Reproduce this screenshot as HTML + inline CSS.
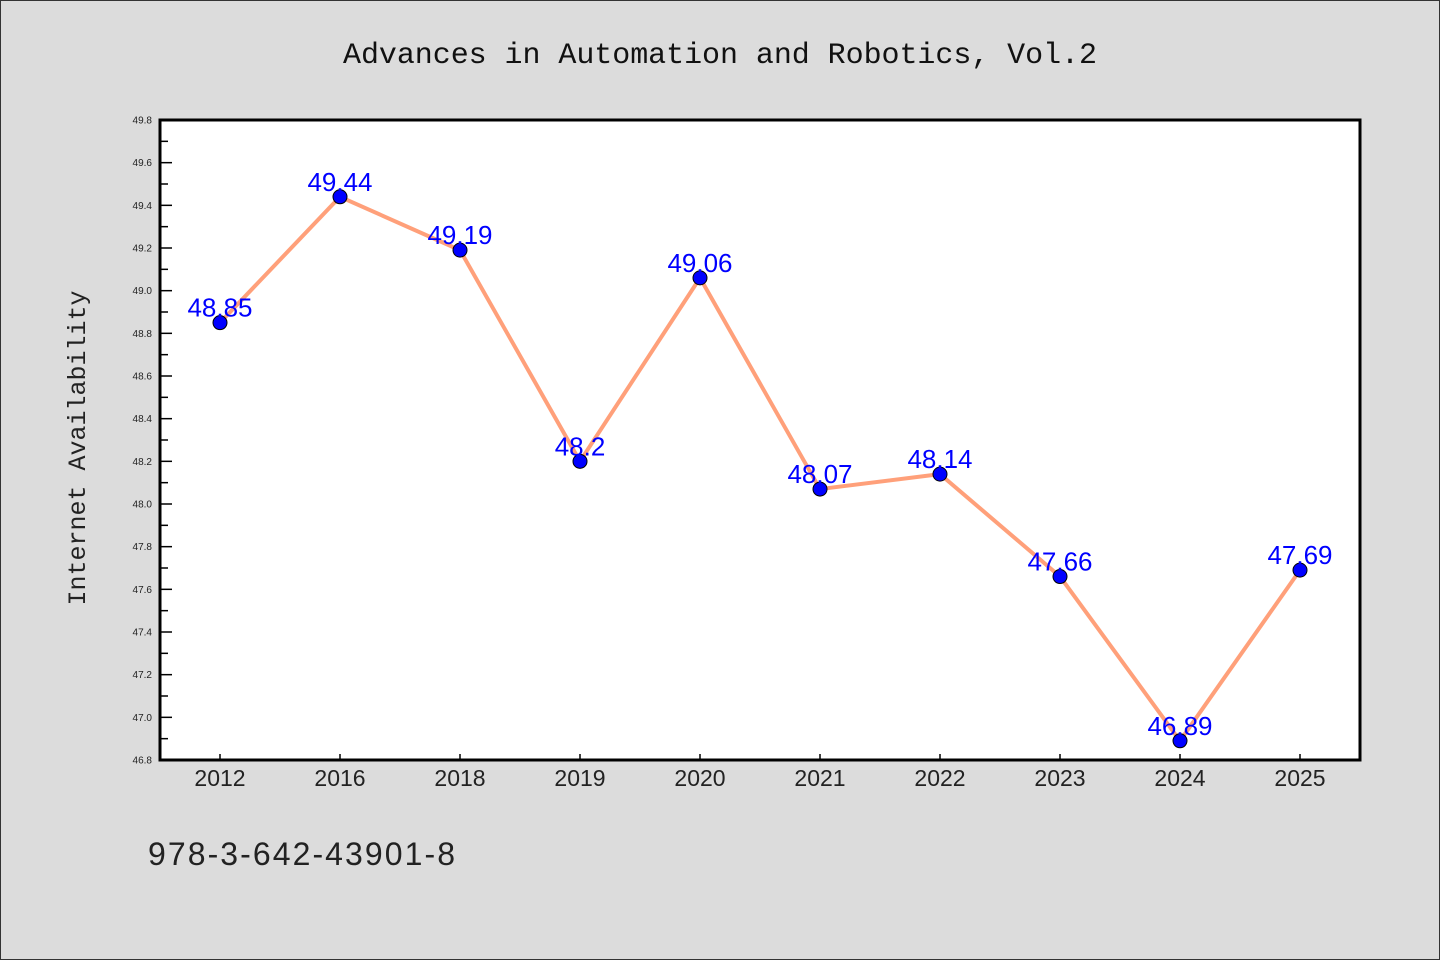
<!DOCTYPE html>
<html><head><meta charset="utf-8"><style>
html,body{margin:0;padding:0;}
body{width:1440px;height:960px;background:#dcdcdc;overflow:hidden;}
svg{display:block;}
svg text{font-family:"WenQuanYi Zen Hei","Liberation Sans",sans-serif;}
</style></head><body>
<svg id="chart" width="1440" height="960" xmlns="http://www.w3.org/2000/svg">
<rect x="0.5" y="0.5" width="1439" height="959" fill="#dcdcdc" stroke="#333" stroke-width="1"/>
<text x="720" y="63" text-anchor="middle" textLength="754" style="font-family:'Liberation Mono',monospace;font-size:30px" fill="#111">Advances in Automation and Robotics, Vol.2</text>
<rect x="160" y="120" width="1200" height="640" fill="#fff"/>
<g id="yticks"></g><g id="xticks"></g>
<g id="series"></g>
<rect x="160" y="120" width="1200" height="640" fill="none" stroke="#000" stroke-width="3"/>
<text transform="translate(85,448) rotate(-90)" text-anchor="middle" style="font-family:'Liberation Mono',monospace;font-size:25px" fill="#222">Internet Availability</text>
<text x="148" y="865" textLength="307" style="font-size:32px" fill="#222">978-3-642-43901-8</text>
</svg>
<script>
const categories=["2012","2016","2018","2019","2020","2021","2022","2023","2024","2025"];
const values=[48.85,49.44,49.19,48.2,49.06,48.07,48.14,47.66,46.89,47.69];
const valueLabels=["48.85","49.44","49.19","48.2","49.06","48.07","48.14","47.66","46.89","47.69"];
const yTicks=["46.8","47.0","47.2","47.4","47.6","47.8","48.0","48.2","48.4","48.6","48.8","49.0","49.2","49.4","49.6","49.8"];
const NS="http://www.w3.org/2000/svg";
const yMin=46.8,yMax=49.8,yTop=120,yBot=760,xLeft=160,xRight=1360;
function y(v){return yBot-(v-yMin)/(yMax-yMin)*(yBot-yTop);}
const band=(xRight-xLeft)/categories.length;
function x(i){return xLeft+band*(i+0.5);}
function mk(t,a,p){const e=document.createElementNS(NS,t);for(const k in a)e.setAttribute(k,a[k]);p.appendChild(e);return e;}
const yt=document.getElementById('yticks');
yTicks.forEach((s,i)=>{const v=parseFloat(s),yy=y(v);
 const l=mk('line',{x1:xLeft,x2:xLeft+12,y1:yy,y2:yy,stroke:'#000','stroke-width':1.5},yt);
 
 
 const t=mk('text',{x:xLeft-8,y:yy+3.5,'text-anchor':'end','font-size':'10',fill:'#222'},yt);t.textContent=s;
 
 
 if(i<yTicks.length-1){const ym=y(v+0.1);
  const m=mk('line',{x1:xLeft,x2:xLeft+8,y1:ym,y2:ym,stroke:'#000','stroke-width':1.5},yt);
  
  }
});
const xt=document.getElementById('xticks');
categories.forEach((c,i)=>{
 const l=mk('line',{x1:x(i),x2:x(i),y1:yBot,y2:yBot-6,stroke:'#000','stroke-width':1.5},xt);
 
 
 const t=mk('text',{x:x(i),y:yBot+26,'text-anchor':'middle','font-size':'23',fill:'#222'},xt);t.textContent=c;
 
 
});
const sg=document.getElementById('series');
const pl=mk('polyline',{points:values.map((v,i)=>x(i)+','+y(v)).join(' '),fill:'none',stroke:'#ffa07a','stroke-width':4,'stroke-linejoin':'round'},sg);


values.forEach((v,i)=>{
 const c=mk('circle',{cx:x(i),cy:y(v),r:7,fill:'#0000ff',stroke:'#000','stroke-width':1},sg);
 
 
 const t=mk('text',{x:x(i),y:y(v)-6,'text-anchor':'middle','font-size':'26',fill:'#0000ff'},sg);t.textContent=valueLabels[i];
 
 
});
</script>
</body></html>
